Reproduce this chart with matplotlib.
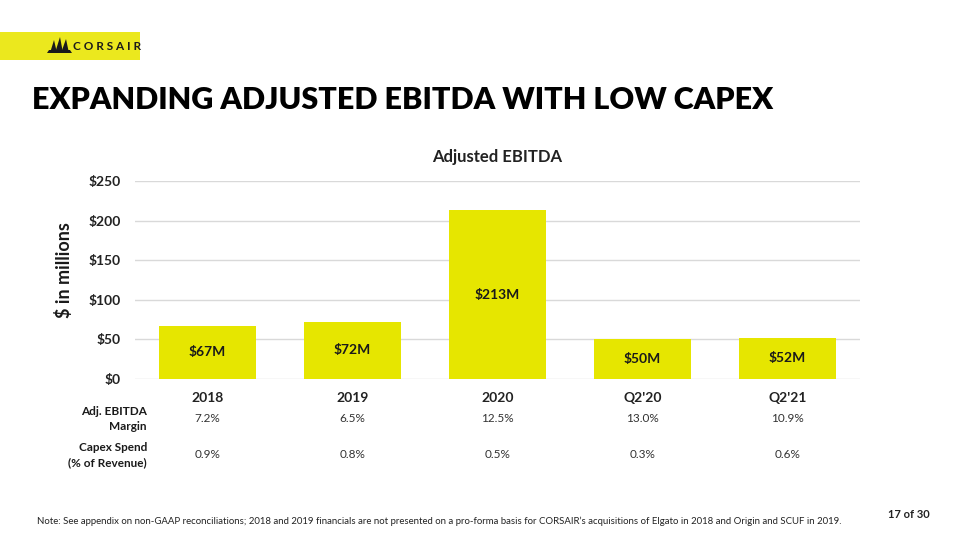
import matplotlib
matplotlib.use("Agg")
import matplotlib.pyplot as plt
from matplotlib.patches import Rectangle, Polygon

plt.rcParams['font.family'] = ['Lato', 'DejaVu Sans']

categories = ["2018", "2019", "2020", "Q2'20", "Q2'21"]
ebitda = [67, 72, 213, 50, 52]
ebitda_labels = ["$67M", "$72M", "$213M", "$50M", "$52M"]
margin = ["7.2%", "6.5%", "12.5%", "13.0%", "10.9%"]
capex = ["0.9%", "0.8%", "0.5%", "0.3%", "0.6%"]
yticks = [0, 50, 100, 150, 200, 250]
ytick_labels = ["$0", "$50", "$100", "$150", "$200", "$250"]

YELLOW = "#E6E600"
W, H = 960, 540
fig = plt.figure(figsize=(9.6, 5.4), dpi=100)

def fx(px):
    return px / W

def fy(py):
    return 1 - py / H

# Logo banner
fig.patches.append(Rectangle((0, fy(60)), fx(140), (60 - 32) / H, transform=fig.transFigure,
                             facecolor="#EBE81E", edgecolor="none"))
# simple sail mark
sails = [
    [(50, 53), (54, 40), (57, 53)],
    [(55, 53), (60, 37), (63, 53)],
    [(61, 53), (66, 39), (69, 53)],
    [(47, 53), (72, 53), (70, 50), (49, 50)],
]
for s in sails:
    fig.patches.append(Polygon([(fx(a), fy(b)) for a, b in s], closed=True,
                               transform=fig.transFigure, facecolor="#1a1a1a", edgecolor="none"))
fig.text(fx(73), fy(46), "C O R S A I R", fontsize=8.5, fontweight="bold", color="#1a1a1a",
         ha="left", va="center")

# Title
fig.text(fx(32), fy(100), "EXPANDING ADJUSTED EBITDA WITH LOW CAPEX", fontsize=22,
         fontweight="heavy", color="black", ha="left", va="center")

# Axes
ax = fig.add_axes([fx(135), fy(379), fx(860 - 135), (379 - 181) / H])
x = list(range(len(categories)))
ax.bar(x, ebitda, width=0.67, color=YELLOW, zorder=2)
for xi, v, lab in zip(x, ebitda, ebitda_labels):
    ax.text(xi, v / 2, lab, ha="center", va="center", fontsize=10, fontweight="bold",
            color="#1a1a1a", zorder=3)
ax.set_xlim(-0.5, len(categories) - 0.5)
ax.set_ylim(0, 250)
ax.set_yticks(yticks)
ax.set_yticklabels(ytick_labels, fontsize=10, fontweight="bold", color="#222222")
ax.set_xticks(x)
ax.set_xticklabels(categories, fontsize=10, fontweight="bold", color="#222222")
ax.tick_params(axis="both", length=0)
ax.tick_params(axis="y", pad=10)
ax.tick_params(axis="x", pad=9)
ax.grid(axis="y", color="#D9D9D9", linewidth=1, zorder=0)
for sp in ax.spines.values():
    sp.set_visible(False)
ax.set_axisbelow(True)
ax.set_title("Adjusted EBITDA", fontsize=12, fontweight="bold", color="#222222", pad=14)
fig.text(fx(64), fy(270), "$ in millions", rotation=90, fontsize=13, fontweight="bold",
         color="#1a1a1a", ha="center", va="center")

# Table rows
fig.text(fx(147), fy(419), "Adj. EBITDA\nMargin", fontsize=8.5, fontweight="bold",
         ha="right", va="center", linespacing=1.5, color="#1a1a1a")
fig.text(fx(147), fy(455), "Capex Spend\n(% of Revenue)", fontsize=8.5, fontweight="bold",
         ha="right", va="center", linespacing=1.5, color="#1a1a1a")
for xi, m, c in zip(x, margin, capex):
    xpix = 135 + (xi + 0.5) * 145
    fig.text(fx(xpix), fy(419), m, fontsize=8.5, ha="center", va="center", color="#333333")
    fig.text(fx(xpix), fy(455), c, fontsize=8.5, ha="center", va="center", color="#333333")

# Footer
fig.text(fx(37), fy(521), "Note: See appendix on non-GAAP reconciliations; 2018 and 2019 financials are not "
         "presented on a pro-forma basis for CORSAIR\u2019s acquisitions of Elgato in 2018 and Origin and SCUF in 2019.",
         fontsize=6.9, ha="left", va="center", color="#222222")
fig.text(fx(930), fy(515), "17 of 30", fontsize=8, fontweight="bold", ha="right", va="center",
         color="#222222")

fig.savefig("out.png", dpi=100)
